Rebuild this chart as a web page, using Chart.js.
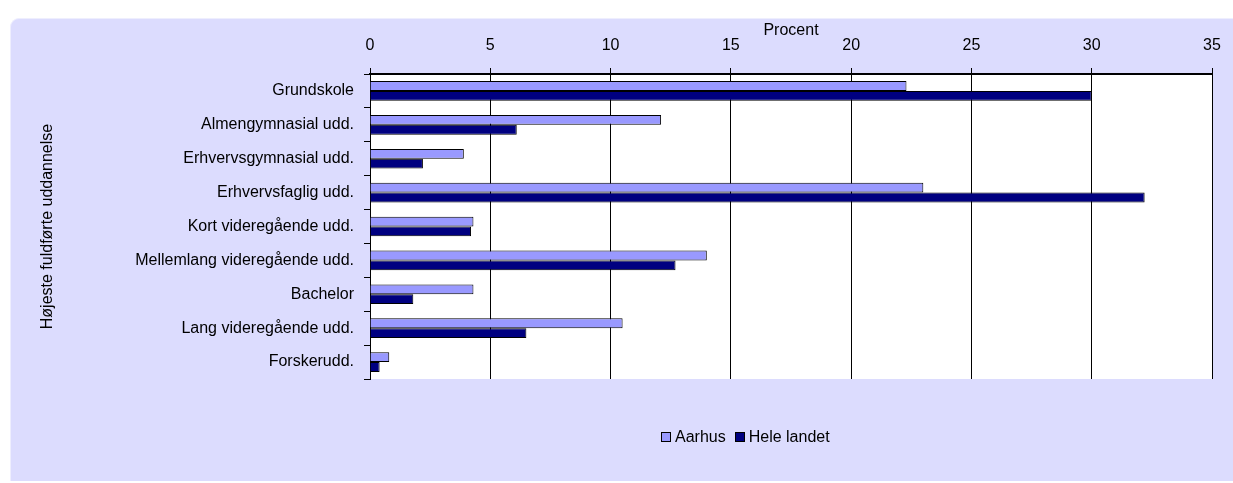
<!DOCTYPE html>
<html>
<head>
<meta charset="utf-8">
<script src="https://cdn.jsdelivr.net/npm/chart.js@4/dist/chart.umd.min.js"></script>
<style>
  body { margin: 0; background: #fff; font-family: "Liberation Sans", Arial, sans-serif; }
  #box { position: absolute; left: 10px; top: 18px; width: 1223px; height: 462px;
         background: #dcdcfe; border-radius: 9px 0 0 0; border-left: 1px solid #eeeefe; border-top: 1px solid #eeeefe; }
  #wrap { position: absolute; left: 0; top: 0; width: 1223px; height: 462px; }
  #legend { position: absolute; top: 408px; left: 650px; font-size: 16px; line-height: 20px; color: #000; white-space: nowrap; }
  #legend span.sw { display: inline-block; width: 8px; height: 8px; border: 1px solid #000; vertical-align: 0px; margin-right: 4px; }
  #legend span.it { margin-right: 9px; }
</style>
</head>
<body>
<div id="box">
  <div id="wrap"><canvas id="myChart"></canvas></div>
  <div id="legend"></div>
</div>
<script>
const categories = ['Grundskole', 'Almengymnasial udd.', 'Erhvervsgymnasial udd.', 'Erhvervsfaglig udd.',
  'Kort videregående udd.', 'Mellemlang videregående udd.', 'Bachelor', 'Lang videregående udd.', 'Forskerudd.'];
const aarhus = [22.3, 12.1, 3.9, 23.0, 4.3, 14.0, 4.3, 10.5, 0.8];
const heleLandet = [30.0, 6.1, 2.2, 32.2, 4.2, 12.7, 1.8, 6.5, 0.4];
const xTicks = [0, 5, 10, 15, 20, 25, 30, 35];
const seriesNames = ['Aarhus', 'Hele landet'];
const seriesColors = ['#9999ff', '#000080'];

// legend built by hand so it can sit where the original one is
const legend = document.getElementById('legend');
legend.innerHTML = seriesNames.map((n, i) =>
  `<span class="it"><span class="sw" style="background:${seriesColors[i]}"></span>${n}</span>`).join('');

const plotBg = {
  id: 'plotBg',
  beforeDraw(chart) {
    const a = chart.chartArea, c = chart.ctx;
    c.save();
    c.fillStyle = '#fff';
    c.fillRect(a.left, a.top, a.right - a.left, a.bottom - a.top);
    c.restore();
  }
};

const font = { family: 'Liberation Sans', size: 16 };

const ctx = document.getElementById('myChart');
new Chart(ctx, {
  type: 'bar',
  data: {
    labels: categories,
    datasets: [
      { label: seriesNames[0], data: aarhus, backgroundColor: seriesColors[0], borderColor: '#000', borderWidth: 1 },
      { label: seriesNames[1], data: heleLandet, backgroundColor: seriesColors[1], borderColor: '#000', borderWidth: 1 }
    ]
  },
  plugins: [plotBg],
  options: {
    indexAxis: 'y',
    responsive: true,
    maintainAspectRatio: false,
    animation: false,
    layout: { padding: { left: 27, right: 22, top: 0, bottom: 102 } },
    datasets: { bar: { categoryPercentage: 0.58, barPercentage: 1.0 } },
    plugins: { legend: { display: false }, tooltip: { enabled: false } },
    scales: {
      x: {
        position: 'top',
        min: 0, max: 35,
        afterBuildTicks: s => { s.ticks = xTicks.map(v => ({ value: v })); },
        afterFit: s => { s.height = 55; },
        ticks: { color: '#000', font, padding: 13 },
        grid: { color: '#000', lineWidth: 1, tickLength: 6 },
        border: { color: '#000', width: 2 },
        title: { display: true, text: 'Procent', color: '#000', font, padding: { top: 2, bottom: 0 } }
      },
      y: {
        offset: true,
        afterFit: s => { s.width = 332; },
        ticks: { color: '#000', font, padding: 10 },
        grid: { offset: true, drawOnChartArea: false, color: '#000', tickLength: 6 },
        border: { color: '#000', width: 1 },
        title: { display: true, text: 'Højeste fuldførte uddannelse', color: '#000', font, padding: { top: 0, bottom: 0 } }
      }
    }
  }
});
</script>
</body>
</html>
